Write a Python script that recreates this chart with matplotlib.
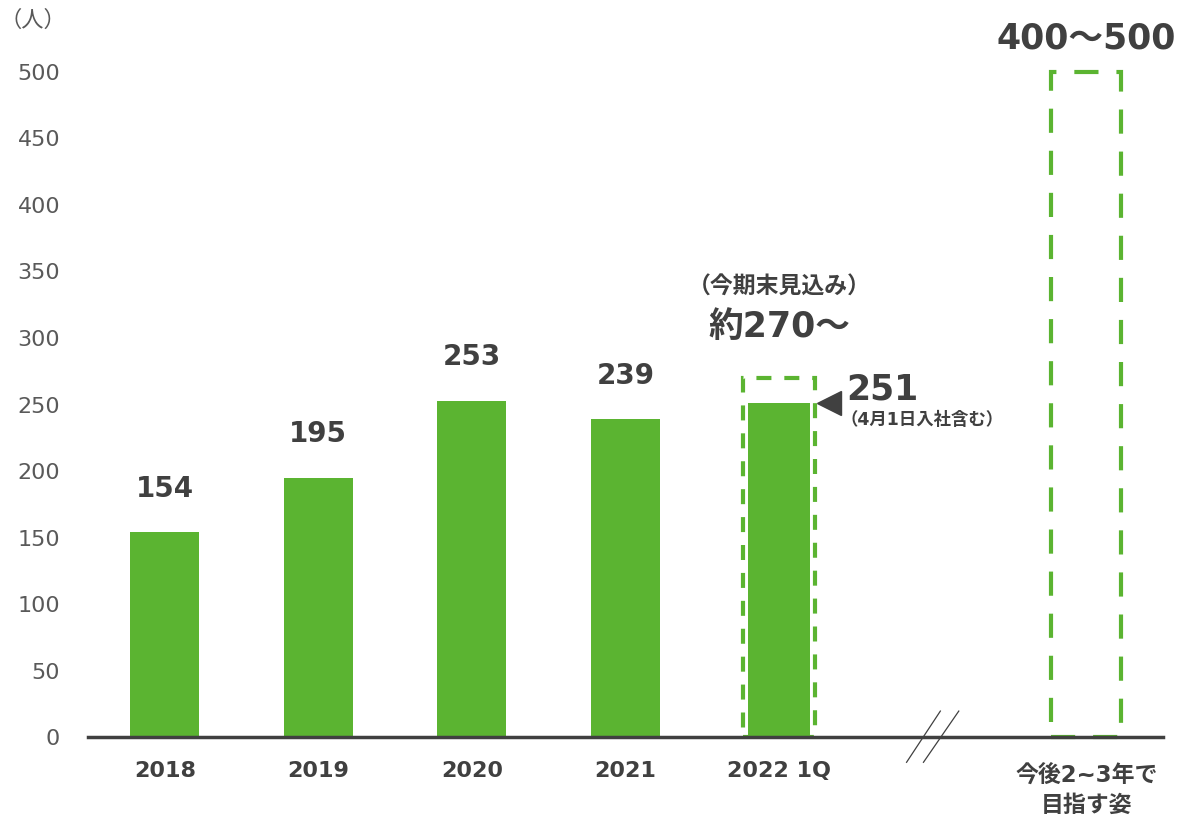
import matplotlib.pyplot as plt
from matplotlib.patches import Rectangle

plt.rcParams['font.family'] = ['DejaVu Sans', 'Noto Sans CJK JP']

# Data
years = ['2018', '2019', '2020', '2021', '2022 1Q']
staff = [154, 195, 253, 239, 251]
goal_now = 270          # 今期末見込み
goal_future = (400, 500)  # 今後2~3年で目指す姿
future_label = '今後2~3年で\n目指す姿'

green = '#5BB431'
dark = '#404040'

fig = plt.figure(figsize=(11.84, 8.18), dpi=100)
ax = fig.add_axes([0.0743, 0.099, 0.908, 0.813])

x = list(range(len(years)))
widths = [0.45, 0.45, 0.45, 0.45, 0.40]
ax.bar(x, staff, width=widths, color=green, zorder=2)

for xi, v in zip(x[:-1], staff[:-1]):
    ax.text(xi, v + 22, str(v), ha='center', va='bottom', fontsize=20,
            fontweight='bold', color=dark)

# 2022: dashed box for the end-of-term estimate
ax.add_patch(Rectangle((4 - 0.235, 0), 0.47, goal_now, fill=False,
                       edgecolor=green, lw=3, linestyle=(0, (3.6, 3.1)),
                       zorder=3))
ax.text(4, goal_now + 38, f'約{goal_now}〜', ha='center', va='center',
        fontsize=25, fontweight='bold', color=dark)
ax.text(4, goal_now + 68, '（今期末見込み）', ha='center', va='center',
        fontsize=16.5, fontweight='bold', color=dark)

# pointer to the current 2022 value
ax.plot(4.325, staff[4], marker='<', markersize=17, color=dark,
        clip_on=False, zorder=4)
ax.text(4.44, staff[4] + 10, str(staff[4]), ha='left', va='center',
        fontsize=25, fontweight='bold', color=dark)
ax.text(4.40, staff[4] - 13, '（4月1日入社含む）', ha='left', va='center',
        fontsize=12.5, fontweight='bold', color=dark)

# future target box
fx = 6
ax.add_patch(Rectangle((fx - 0.228, 0), 0.456, goal_future[1], fill=False,
                       edgecolor=green, lw=3, linestyle=(0, (5.8, 4.3)),
                       zorder=3, clip_on=False))
ax.text(fx, goal_future[1] + 25, f'{goal_future[0]}〜{goal_future[1]}',
        ha='center', va='center', fontsize=25, fontweight='bold', color=dark,
        clip_on=False)

# axis break marks
for x0, x1 in [(4.83, 5.05), (4.94, 5.17)]:
    ax.plot([x0, x1], [-19, 19.5], color=dark, lw=0.9, clip_on=False, zorder=5)

ax.set_xlim(-0.5, 6.5)
ax.set_ylim(0, 500)
ax.set_yticks(range(0, 501, 50))
ax.set_xticks(x)
ax.set_xticklabels(years, fontsize=16, fontweight='bold', color=dark)
ax.text(fx, -20, future_label, ha='center', va='top', fontsize=16.5,
        fontweight='bold', color=dark, linespacing=1.4)

ax.tick_params(axis='y', length=0, pad=20, labelsize=16, labelcolor='#595959')
ax.tick_params(axis='x', length=0, pad=17)
for s in ['top', 'right', 'left']:
    ax.spines[s].set_visible(False)
ax.spines['bottom'].set_color(dark)
ax.spines['bottom'].set_linewidth(2.5)
ax.spines['bottom'].set_zorder(4)

ax.text(-0.082, 1.078, '（人）', transform=ax.transAxes, ha='left',
        va='center', fontsize=16, color='#595959')

fig.savefig('out.png', dpi=100)
